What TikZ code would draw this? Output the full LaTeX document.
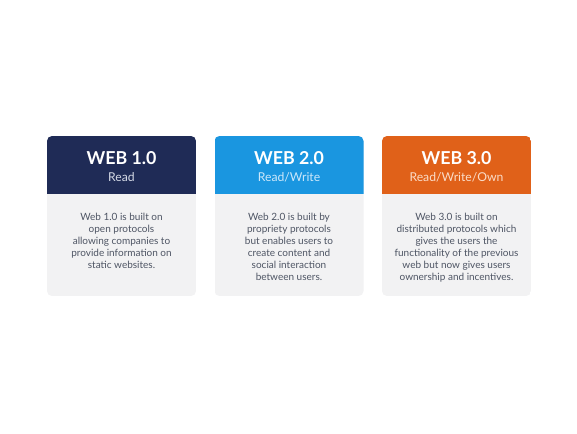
\documentclass[tikz,border=0pt]{standalone}
\usepackage{fontspec}
\setmainfont{Lato}
\definecolor{navyhead}{HTML}{1F2B56}
\definecolor{bluehead}{HTML}{1A96E0}
\definecolor{orangehead}{HTML}{E06119}
\definecolor{cardbody}{HTML}{F2F2F3}
\definecolor{bodytext}{HTML}{4E5564}
\definecolor{navysub}{HTML}{D5DAE6}
\definecolor{bluesub}{HTML}{CDE8FA}
\definecolor{orangesub}{HTML}{FADCC8}
\begin{document}
\begin{tikzpicture}[x=1pt,y=-1pt,
  headtitle/.style={anchor=base, inner sep=0pt, text=white,
    font=\fontsize{17.8}{21}\selectfont\bfseries},
  headsub/.style={anchor=base, inner sep=0pt,
    font=\fontsize{12.2}{14}\selectfont},
  bodyblock/.style={anchor=north, inner sep=0pt, align=center, text=bodytext,
    font=\fontsize{10}{12}\selectfont}]
\useasboundingbox[fill=white] (0,0) rectangle (577,433);

% one card: body panel with a coloured header band, title, subtitle, description
\foreach \i/\hc/\sc/\ttl/\sub/\desc in {
  0/navyhead/navysub/{WEB 1.0}/{Read}/{Web 1.0 is built on\\open protocols\\allowing companies to\\provide information on\\static websites.},
  1/bluehead/bluesub/{WEB 2.0}/{Read/Write}/{Web 2.0 is built by\\propriety protocols\\but enables users to\\create content and\\social interaction\\between users.},
  2/orangehead/orangesub/{WEB 3.0}/{Read/Write/Own}/{Web 3.0 is built on\\distributed protocols which\\gives the users the\\functionality of the previous\\web but now gives users\\ownership and incentives.}}{
  \pgfmathsetmacro{\xl}{47+167.5*\i}
  \pgfmathsetmacro{\xr}{\xl+149}
  \pgfmathsetmacro{\xc}{\xl+74.5}
  \begin{scope}
    \clip[rounded corners=5pt] (\xl,136) rectangle (\xr,296);
    \fill[cardbody] (\xl,136) rectangle (\xr,296);
    \fill[\hc] (\xl,136) rectangle (\xr,194);
  \end{scope}
  \node[headtitle] (title\i) at (\xc,164) {\ttl};
  \node[headsub, text=\sc] (sub\i) at (\xc,181) {\sub};
  \node[bodyblock] (desc\i) at (\xc,212.5) {\desc};
}
\end{tikzpicture}
\end{document}
